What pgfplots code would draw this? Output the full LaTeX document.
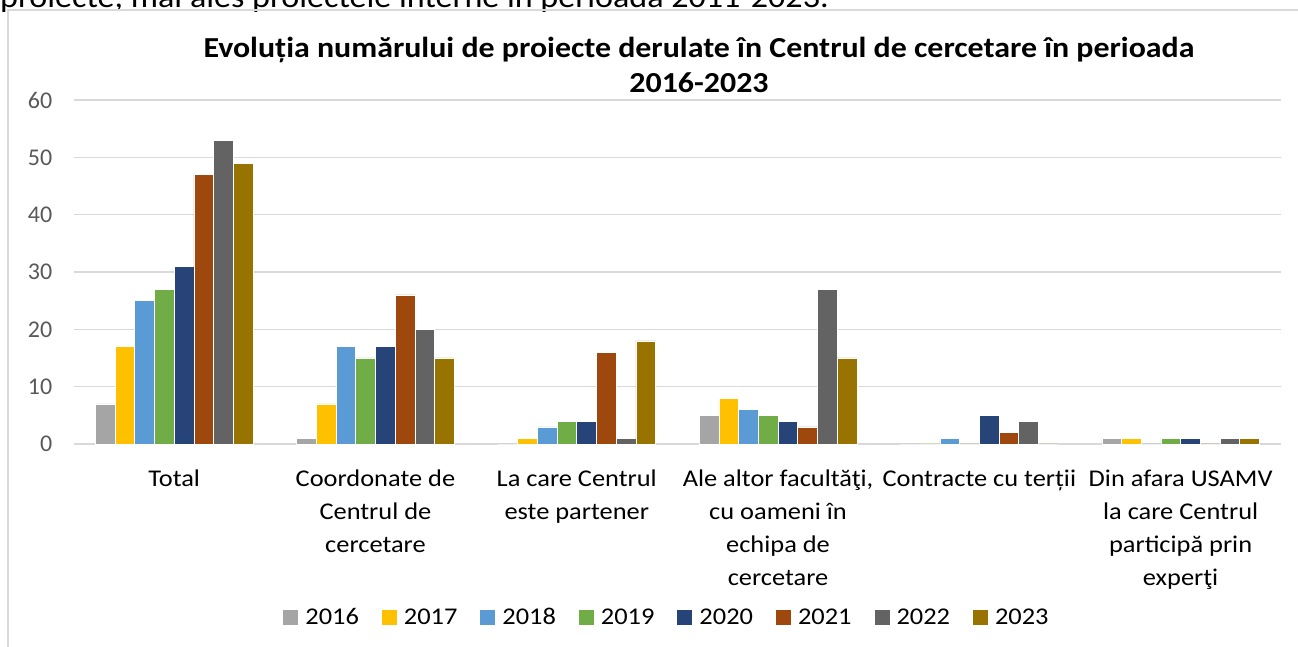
\documentclass[border=0pt]{standalone}
\usepackage{fontspec}
\setmainfont{Carlito}
\newfontfamily\wide[FakeStretch=1.1]{Carlito}
\usepackage{pgfplots}
\pgfplotsset{compat=1.18}
\definecolor{c16}{HTML}{A5A5A5}
\definecolor{c17}{HTML}{FFC000}
\definecolor{c18}{HTML}{5B9BD5}
\definecolor{c19}{HTML}{70AD47}
\definecolor{c20}{HTML}{264478}
\definecolor{c21}{HTML}{9E480E}
\definecolor{c22}{HTML}{636363}
\definecolor{c23}{HTML}{997300}
\definecolor{gridc}{HTML}{D9D9D9}
\definecolor{framec}{HTML}{D9D9D9}
\definecolor{tickc}{HTML}{595959}
\begin{document}
\begin{tikzpicture}[x=1pt,y=1pt]
\useasboundingbox (0,0) rectangle (1298,647);
\clip (0,0) rectangle (1298,647);
% cut-off text line above the chart
\node[anchor=base west, inner sep=0pt, font=\wide\fontsize{31}{36}\selectfont] at (0,639) {proiecte, mai ales proiectele interne în perioada 2011-2023.};
% frame
\draw[framec, line width=1.3pt] (8,-5) -- (8,637) -- (1310,637);
% title
\node[anchor=base, inner sep=0pt, font=\wide\fontsize{29}{34}\selectfont\bfseries] at (699,589) {Evoluția numărului de proiecte derulate în Centrul de cercetare în perioada};
\node[anchor=base, inner sep=0pt, font=\wide\fontsize{29}{34}\selectfont\bfseries] at (699,554) {2016-2023};
\begin{axis}[
  at={(73.5pt,203pt)}, anchor=south west,
  scale only axis, width=1207.8pt, height=344pt,
  xmin=-0.5, xmax=5.5, ymin=0, ymax=60,
  ybar=0pt, bar width=19.7pt,
  axis line style={draw=none},
  major tick length=0pt,
  ymajorgrids, grid style={gridc, line width=1.3pt},
  ytick={0,10,...,60},
  xtick={0,1,2,3,4,5},
  xticklabels={Total,{Coordonate de\\Centrul de\\cercetare},{La care Centrul\\este partener},{Ale altor facultăţi,\\cu oameni în\\echipa de\\cercetare},{Contracte cu terții},{Din afara USAMV\\la care Centrul\\participă prin\\experţi}},
  xticklabel style={align=center, anchor=north, inner sep=0pt, yshift=-26pt, font=\wide\fontsize{24}{33}\selectfont, text=black},
  yticklabel style={anchor=east, inner sep=0pt, xshift=-21pt, font=\fontsize{24}{28}\selectfont, text=tickc},
  /pgf/number format/assume math mode=true,
  legend columns=8,
  legend style={at={(0.4914,-0.503)}, anchor=center, draw=none, fill=none,
    font=\wide\fontsize{24}{30}\selectfont, inner sep=0pt,
    /tikz/every even column/.append style={column sep=21pt},
    /tikz/every odd column/.append style={column sep=5pt}},
  legend image code/.code={\path[#1,draw=none] (0pt,-7.5pt) rectangle (15pt,7.5pt);},
  clip=false,
]
\addplot[fill=c16, draw=white, line width=0.5pt] coordinates {(0,7) (1,1) (2,0) (3,5) (4,0) (5,1)};
\addplot[fill=c17, draw=white, line width=0.5pt] coordinates {(0,17) (1,7) (2,1) (3,8) (4,0) (5,1)};
\addplot[fill=c18, draw=white, line width=0.5pt] coordinates {(0,25) (1,17) (2,3) (3,6) (4,1) (5,0)};
\addplot[fill=c19, draw=white, line width=0.5pt] coordinates {(0,27) (1,15) (2,4) (3,5) (4,0) (5,1)};
\addplot[fill=c20, draw=white, line width=0.5pt] coordinates {(0,31) (1,17) (2,4) (3,4) (4,5) (5,1)};
\addplot[fill=c21, draw=white, line width=0.5pt] coordinates {(0,47) (1,26) (2,16) (3,3) (4,2) (5,0)};
\addplot[fill=c22, draw=white, line width=0.5pt] coordinates {(0,53) (1,20) (2,1) (3,27) (4,4) (5,1)};
\addplot[fill=c23, draw=white, line width=0.5pt] coordinates {(0,49) (1,15) (2,18) (3,15) (4,0) (5,1)};
\legend{2016,2017,2018,2019,2020,2021,2022,2023}
\end{axis}
\end{tikzpicture}
\end{document}
